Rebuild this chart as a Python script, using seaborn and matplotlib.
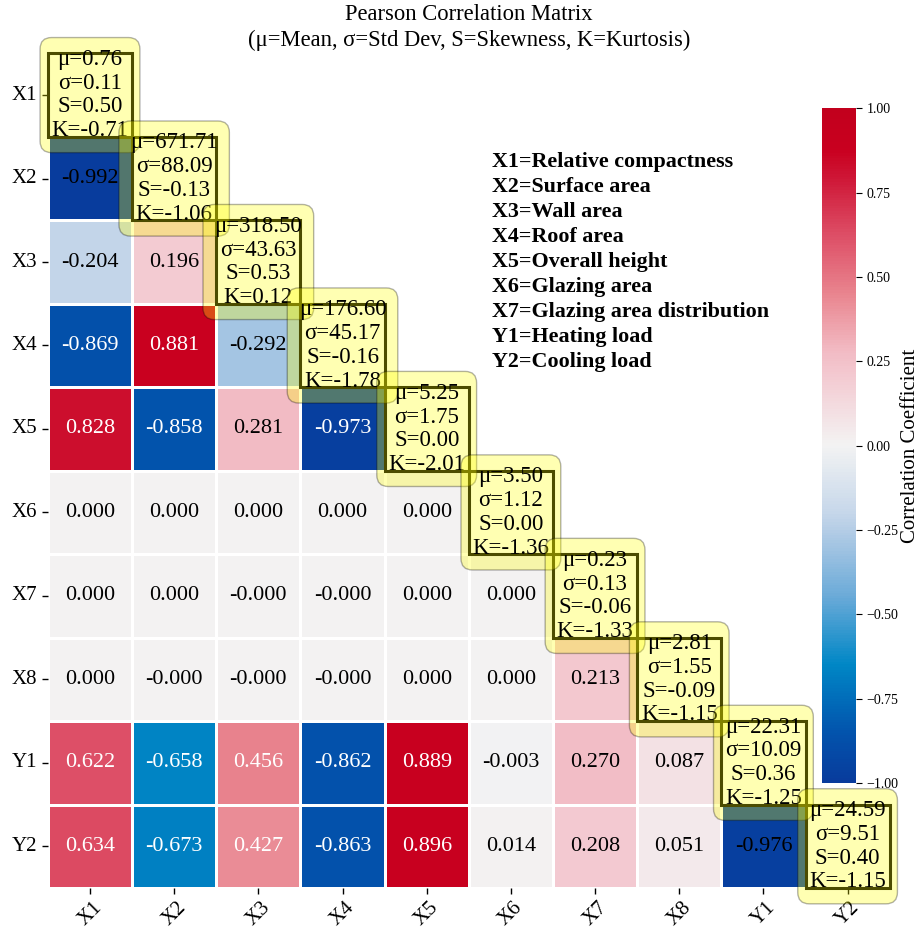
import numpy as np
import pandas as pd
import matplotlib
matplotlib.use("Agg")
import matplotlib.pyplot as plt
from matplotlib.colors import LinearSegmentedColormap
from matplotlib.patches import Rectangle
import seaborn as sns

plt.rcParams["font.family"] = ["Liberation Serif", "DejaVu Serif"]

variables = ["X1", "X2", "X3", "X4", "X5", "X6", "X7", "X8", "Y1", "Y2"]

# Pearson coefficients below the diagonal, one list per row
corr_rows = [
    [],
    [-0.992],
    [-0.204, 0.196],
    [-0.869, 0.881, -0.292],
    [0.828, -0.858, 0.281, -0.973],
    [0.000, 0.000, 0.000, 0.000, 0.000],
    [0.000, 0.000, -0.0, -0.0, 0.000, 0.000],
    [0.000, -0.0, -0.0, -0.0, 0.000, 0.000, 0.213],
    [0.622, -0.658, 0.456, -0.862, 0.889, -0.003, 0.270, 0.087],
    [0.634, -0.673, 0.427, -0.863, 0.896, 0.014, 0.208, 0.051, -0.976],
]

# descriptive statistics shown on the diagonal
means = [0.76, 671.71, 318.50, 176.60, 5.25, 3.50, 0.23, 2.81, 22.31, 24.59]
stds = [0.11, 88.09, 43.63, 45.17, 1.75, 1.12, 0.13, 1.55, 10.09, 9.51]
skews = [0.50, -0.13, 0.53, -0.16, 0.00, 0.00, -0.06, -0.09, 0.36, 0.40]
kurts = [-0.71, -1.06, 0.12, -1.78, -2.01, -1.36, -1.33, -1.15, -1.25, -1.15]

legend_lines = [
    "X1=Relative compactness",
    "X2=Surface area",
    "X3=Wall area",
    "X4=Roof area",
    "X5=Overall height",
    "X6=Glazing area",
    "X7=Glazing area distribution",
    "Y1=Heating load",
    "Y2=Cooling load",
]

n = len(variables)
mat = np.full((n, n), np.nan)
for i, row in enumerate(corr_rows):
    for j, v in enumerate(row):
        mat[i, j] = v
corr = pd.DataFrame(mat, index=variables, columns=variables)
mask = np.triu(np.ones((n, n), dtype=bool))

cmap = LinearSegmentedColormap.from_list(
    "corr_div",
    [
        (0.000, "#083B9C"),
        (0.075, "#0254AD"),
        (0.175, "#0087C6"),
        (0.275, "#6AAAD8"),
        (0.375, "#B5CDE6"),
        (0.400, "#C6D7EA"),
        (0.500, "#F3F3F3"),
        (0.600, "#F3CBD2"),
        (0.640, "#F2BBC4"),
        (0.725, "#E9858F"),
        (0.815, "#DD4D65"),
        (0.900, "#CE1535"),
        (0.940, "#C9001F"),
        (1.000, "#C2001D"),
    ],
)

fig = plt.figure(figsize=(9.21, 9.41), dpi=100)
ax = fig.add_axes([0.052, 0.0563, 0.914, 0.887])
cax = fig.add_axes([0.8925, 0.168, 0.037, 0.717])

sns.heatmap(
    corr, mask=mask, cmap=cmap, vmin=-1, vmax=1,
    linewidths=1, linecolor="white", square=False,
    ax=ax, cbar_ax=cax, annot=False,
)

# coefficient labels
for i in range(n):
    for j in range(i):
        v = mat[i, j]
        colour = "white" if 0.4 < abs(v) < 0.975 else "black"
        ax.text(j + 0.5, i + 0.5, f"{v:.3f}", ha="center", va="center",
                fontsize=16, color=colour)

# statistics boxes on the diagonal
for i in range(n):
    ax.add_patch(Rectangle((i, i), 1, 1, fill=False, edgecolor="black",
                           linewidth=2.2, zorder=3, clip_on=False))
    label = (f"μ={means[i]:.2f}\nσ={stds[i]:.2f}\n"
             f"S={skews[i]:.2f}\nK={kurts[i]:.2f}")
    ax.text(i + 0.5, i + 0.5, label, ha="center", va="center",
            multialignment="center", fontsize=16.5, linespacing=1.17,
            zorder=4, clip_on=False,
            bbox=dict(boxstyle="round,pad=0.5", facecolor="yellow",
                      edgecolor="black", alpha=0.3))

# variable key
for k, line in enumerate(legend_lines):
    ax.text(0.528, 0.870 - k * 0.0300, line, transform=ax.transAxes,
            ha="left", va="center", fontsize=15.8, fontweight="bold")

ax.set_title("Pearson Correlation Matrix\n(μ=Mean, σ=Std Dev, S=Skewness, K=Kurtosis)",
             fontsize=16.3, pad=5, linespacing=1.3)
ax.set_xlabel("")
ax.set_ylabel("")
ax.set_xticklabels(variables, rotation=45, ha="center", fontsize=15)
ax.set_yticklabels(variables, rotation=0, fontsize=15)
ax.tick_params(axis="both", length=4, width=1)

cbar = ax.collections[0].colorbar
cbar.set_ticks([-1.0, -0.75, -0.5, -0.25, 0.0, 0.25, 0.5, 0.75, 1.0])
cbar.ax.tick_params(labelsize=10, length=4)
cbar.set_label("Correlation Coefficient", fontsize=15, labelpad=2)

fig.savefig("out.png", dpi=100)
